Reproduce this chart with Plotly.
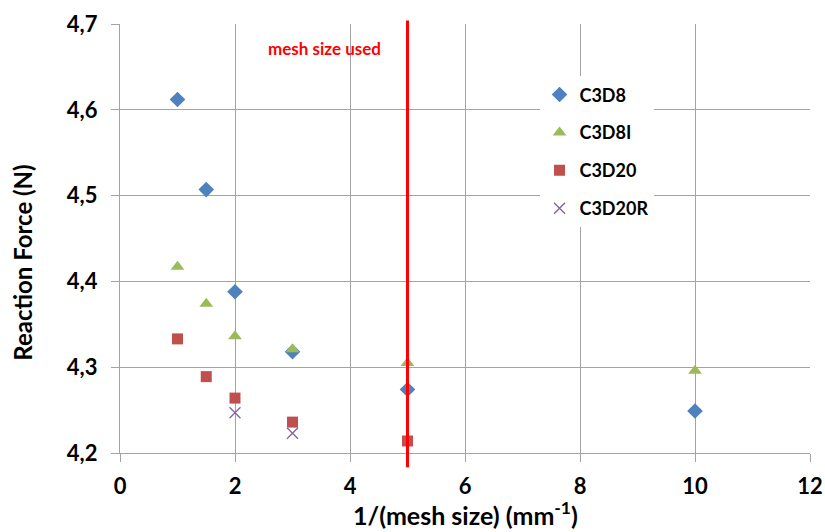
import plotly.graph_objects as go

# Reaction force versus mesh refinement for four element types
x_c3d8 = [1, 1.5, 2, 3, 5, 10]
y_c3d8 = [4.612, 4.507, 4.388, 4.318, 4.274, 4.249]

x_c3d8i = [1, 1.5, 2, 3, 5, 10]
y_c3d8i = [4.417, 4.374, 4.336, 4.321, 4.305, 4.296]

x_c3d20 = [1, 1.5, 2, 3, 5]
y_c3d20 = [4.333, 4.289, 4.264, 4.236, 4.214]

x_c3d20r = [2, 3]
y_c3d20r = [4.247, 4.223]

used_mesh = 5
x_ticks = [0, 2, 4, 6, 8, 10, 12]
y_ticks = [4.2, 4.3, 4.4, 4.5, 4.6, 4.7]
y_tick_text = [f"{v:.1f}".replace(".", ",") for v in y_ticks]

FONT = "Lato"
GRID = "#a3a3a3"

series = [
    ("C3D8", x_c3d8, y_c3d8, "diamond", "#4F81BD", 12),
    ("C3D8I", x_c3d8i, y_c3d8i, "triangle-up", "#9BBB59", 12),
    ("C3D20", x_c3d20, y_c3d20, "square", "#C0504D", 11),
    ("C3D20R", x_c3d20r, y_c3d20r, "x-thin", "#8064A2", 11),
]

fig = go.Figure()
for name, xs, ys, sym, col, size in series:
    marker = dict(symbol=sym, color=col, size=size)
    if sym == "x-thin":
        marker["line"] = dict(color=col, width=1.3)
    fig.add_trace(go.Scatter(
        x=xs, y=ys, mode="markers", name=name, legendgroup=name,
        marker=marker,
    ))

# Vertical marker at the mesh size that was used
fig.add_shape(type="line", xref="x", yref="paper",
              x0=used_mesh, x1=used_mesh, y0=-0.033, y1=1.008,
              line=dict(color="#FF0000", width=3), layer="above")
fig.add_annotation(x=3.56, y=4.672, xref="x", yref="y",
                   text="mesh size used", showarrow=False,
                   xanchor="center", yanchor="middle",
                   font=dict(family=FONT, size=17, color="#FF0000",
                             weight="bold"))

# Axis titles
fig.add_annotation(x=0.5, y=-0.141, xref="paper", yref="paper",
                   text="1/(mesh size) (mm<sup>-1</sup>)", showarrow=False,
                   xanchor="center", yanchor="middle",
                   font=dict(family=FONT, size=25, color="#000000",
                             weight="bold"))
fig.add_annotation(x=-0.141, y=0.443, xref="paper", yref="paper",
                   text="Reaction Force (N)", showarrow=False, textangle=-90,
                   xanchor="center", yanchor="middle",
                   font=dict(family=FONT, size=24, color="#000000",
                             weight="bold"))

axis_common = dict(
    showgrid=True, gridcolor=GRID, gridwidth=1.3,
    showline=True, linecolor=GRID, linewidth=1.3,
    ticks="outside", ticklen=8, tickcolor=GRID, tickwidth=1.3,
    zeroline=False, automargin=False,
    tickfont=dict(family=FONT, size=22, color="#000000", weight="bold"),
)

fig.update_layout(
    width=825, height=532,
    margin=dict(l=120, r=15, t=24, b=79),
    paper_bgcolor="white", plot_bgcolor="white",
    font=dict(family=FONT, color="#000000"),
    xaxis=dict(range=[0, 12], tickvals=x_ticks, ticklabelstandoff=5,
               **axis_common),
    yaxis=dict(range=[4.2, 4.7], tickvals=y_ticks, ticktext=y_tick_text,
               ticklabelstandoff=9, **axis_common),
    showlegend=True,
    legend=dict(x=0.608, y=0.878, xanchor="left", yanchor="top",
                bgcolor="white", borderwidth=0,
                font=dict(family=FONT, size=18, color="#000000",
                          weight="bold"),
                tracegroupgap=11.5, itemwidth=30),
)

fig.write_html("out.html")
